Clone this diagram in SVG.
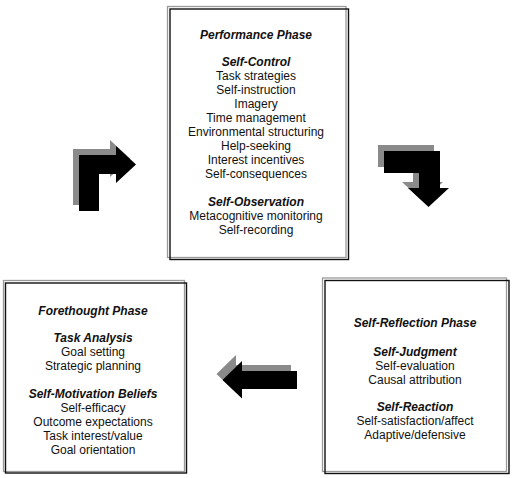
<svg xmlns="http://www.w3.org/2000/svg" width="513" height="478" viewBox="0 0 513 478">
<style>
  .frame-back { fill: none; stroke: #9a9a9a; stroke-width: 1.3; }
  .frame { fill: none; stroke: #111; stroke-width: 1.4; }
  text { font-family: "Liberation Sans", Arial, Helvetica, sans-serif; font-size: 12px; fill: #111; text-anchor: middle; }
  .h { font-weight: bold; font-style: italic; }
  .shadow { fill: #8a8a8a; }
  .arrow { fill: #000; }
</style>
<rect width="513" height="478" fill="#fff"/>

<g id="connectors">
  <!-- bent arrow up-right (forethought -> performance) -->
  <g transform="translate(-6,-6)"><path class="shadow" d="M79,155 H116 V146 L136,164.5 L116,183 V174 H99 V211 H79 Z"/></g>
  <path class="arrow" d="M79,155 H116 V146 L136,164.5 L116,183 V174 H99 V211 H79 Z"/>
  <!-- bent arrow right-down (performance -> self-reflection) -->
  <g transform="translate(-6,-6)"><path class="shadow" d="M384,151 H440 V188 H449 L428.5,207 L408,188 H419 V173 H384 Z"/></g>
  <path class="arrow" d="M384,151 H440 V188 H449 L428.5,207 L408,188 H419 V173 H384 Z"/>
  <!-- left arrow (self-reflection -> forethought) -->
  <g transform="translate(-6,-6)"><path class="shadow" d="M297,371 V389 H242 V398.5 L222.5,380 L242,361 V371 Z"/></g>
  <path class="arrow" d="M297,371 V389 H242 V398.5 L222.5,380 L242,361 V371 Z"/>
</g>

<g id="performance">
  <rect class="frame-back" x="167.5" y="6.5" width="178.5" height="251"/>
  <rect class="frame" x="170" y="9" width="178.5" height="250.5"/>
  <text class="h" x="256" y="38.5">Performance Phase</text>
  <text class="h" x="256" y="66">Self-Control</text>
  <text x="256" y="80">Task strategies</text>
  <text x="256" y="94">Self-instruction</text>
  <text x="256" y="108">Imagery</text>
  <text x="256" y="122">Time management</text>
  <text x="256" y="136">Environmental structuring</text>
  <text x="256" y="150">Help-seeking</text>
  <text x="256" y="164">Interest incentives</text>
  <text x="256" y="178">Self-consequences</text>
  <text class="h" x="256" y="206">Self-Observation</text>
  <text x="256" y="220">Metacognitive monitoring</text>
  <text x="256" y="234">Self-recording</text>
</g>

<g id="forethought">
  <rect class="frame-back" x="3.5" y="280.5" width="181" height="191"/>
  <rect class="frame" x="5.5" y="283" width="181" height="190"/>
  <text class="h" x="93" y="315">Forethought Phase</text>
  <text class="h" x="93" y="342">Task Analysis</text>
  <text x="93" y="356">Goal setting</text>
  <text x="93" y="370">Strategic planning</text>
  <text class="h" x="93" y="398">Self-Motivation Beliefs</text>
  <text x="93" y="412">Self-efficacy</text>
  <text x="93" y="426">Outcome expectations</text>
  <text x="93" y="440">Task interest/value</text>
  <text x="93" y="454">Goal orientation</text>
</g>

<g id="self-reflection">
  <rect class="frame-back" x="322.5" y="278" width="184" height="193.5"/>
  <rect class="frame" x="325" y="280.5" width="184" height="193"/>
  <text class="h" x="415" y="327">Self-Reflection Phase</text>
  <text class="h" x="415" y="356">Self-Judgment</text>
  <text x="415" y="370">Self-evaluation</text>
  <text x="415" y="384">Causal attribution</text>
  <text class="h" x="415" y="411">Self-Reaction</text>
  <text x="415" y="425">Self-satisfaction/affect</text>
  <text x="415" y="439">Adaptive/defensive</text>
</g>
</svg>
